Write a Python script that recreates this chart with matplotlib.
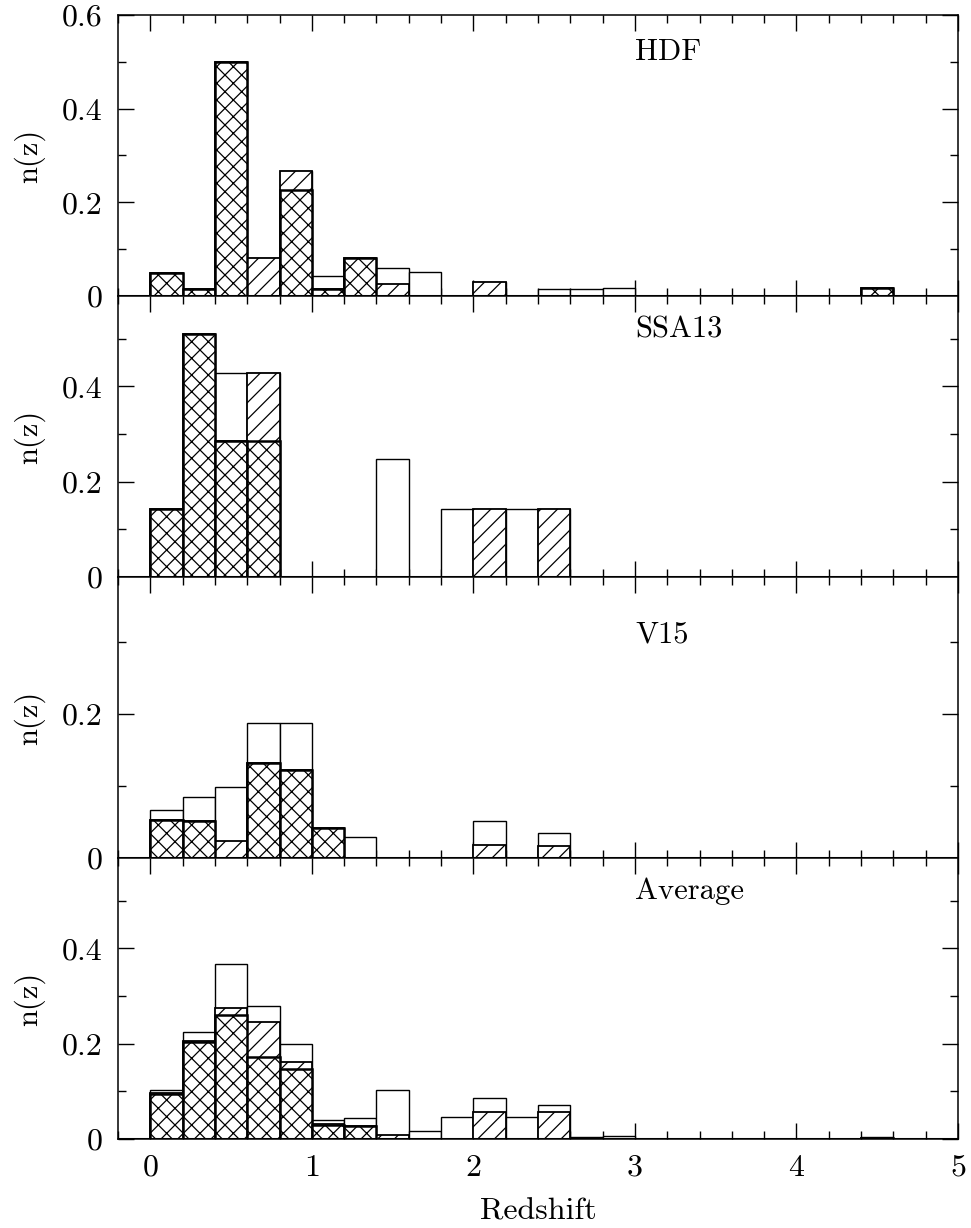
import numpy as np
import matplotlib
matplotlib.use("Agg")
import matplotlib.pyplot as plt
from matplotlib.ticker import MultipleLocator, FixedLocator, FixedFormatter

plt.rcParams['font.family'] = ['cmr10', 'DejaVu Serif']
plt.rcParams['axes.unicode_minus'] = False
plt.rcParams['hatch.linewidth'] = 0.9
plt.rcParams['hatch.color'] = 'black'

# bins of width 0.2 from z=0 to z=5
bin_width = 0.2
bin_left = np.arange(0, 5, bin_width)

names = ["HDF", "SSA13", "V15", "Average"]

# open bars = all, hatched = subset, cross-hatched = smaller subset
hdf_all = [0.048, 0.014, 0.50, 0.081, 0.267, 0.043, 0.081, 0.059, 0.051, 0, 0.029, 0, 0.014,
           0.014, 0.017, 0, 0, 0, 0, 0, 0, 0, 0.016, 0, 0]
hdf_hatch = [0.048, 0.014, 0.50, 0.081, 0.267, 0.014, 0.081, 0.026, 0, 0, 0.029, 0, 0,
             0, 0, 0, 0, 0, 0, 0, 0, 0, 0.016, 0, 0]
hdf_cross = [0.048, 0.014, 0.50, 0, 0.226, 0.014, 0.081, 0, 0, 0, 0, 0, 0,
             0, 0, 0, 0, 0, 0, 0, 0, 0, 0.016, 0, 0]

ssa_all = [0.143, 0.51, 0.428, 0.428, 0, 0, 0, 0.248, 0, 0.143, 0.143, 0.143, 0.143,
           0, 0, 0, 0, 0, 0, 0, 0, 0, 0, 0, 0]
ssa_hatch = [0.143, 0.51, 0.286, 0.428, 0, 0, 0, 0, 0, 0, 0.143, 0, 0.143,
             0, 0, 0, 0, 0, 0, 0, 0, 0, 0, 0, 0]
ssa_cross = [0.143, 0.51, 0.286, 0.286, 0, 0, 0, 0, 0, 0, 0, 0, 0,
             0, 0, 0, 0, 0, 0, 0, 0, 0, 0, 0, 0]

v15_all = [0.066, 0.085, 0.099, 0.187, 0.187, 0.042, 0.029, 0, 0, 0, 0.052, 0, 0.034,
           0, 0, 0, 0, 0, 0, 0, 0, 0, 0, 0, 0]
v15_hatch = [0.053, 0.051, 0.024, 0.132, 0.122, 0.042, 0, 0, 0, 0, 0.018, 0, 0.016,
             0, 0, 0, 0, 0, 0, 0, 0, 0, 0, 0, 0]
v15_cross = [0.053, 0.051, 0, 0.132, 0.122, 0.042, 0, 0, 0, 0, 0, 0, 0,
             0, 0, 0, 0, 0, 0, 0, 0, 0, 0, 0, 0]

avg_all = [0.103, 0.224, 0.367, 0.279, 0.200, 0.039, 0.044, 0.102, 0.016, 0.046, 0.087, 0.046, 0.071,
           0.004, 0.006, 0, 0, 0, 0, 0, 0, 0, 0.004, 0, 0]
avg_hatch = [0.097, 0.206, 0.276, 0.246, 0.161, 0.031, 0.028, 0.009, 0, 0, 0.056, 0, 0.056,
             0, 0, 0, 0, 0, 0, 0, 0, 0, 0.003, 0, 0]
avg_cross = [0.094, 0.204, 0.260, 0.172, 0.147, 0.030, 0.027, 0, 0, 0, 0, 0, 0,
             0, 0, 0, 0, 0, 0, 0, 0, 0, 0.003, 0, 0]

all_sets = [hdf_all, ssa_all, v15_all, avg_all]
hatch_sets = [hdf_hatch, ssa_hatch, v15_hatch, avg_hatch]
cross_sets = [hdf_cross, ssa_cross, v15_cross, avg_cross]

y_tops = [0.6, 0.59, 0.39, 0.59]
y_labels = [["0", "0.2", "0.4", "0.6"], ["0", "0.2", "0.4"], ["0", "0.2"], ["0", "0.2", "0.4"]]
label_y = [0.52, 0.52, 0.31, 0.52]

fs = 21
fig, axes = plt.subplots(4, 1, figsize=(9.71, 12.28), dpi=100, sharex=True)
fig.subplots_adjust(left=0.1215, right=0.9866, top=0.9878, bottom=0.0725, hspace=0)

for i, ax in enumerate(axes):
    # open, then single hatch, then cross hatch on top
    ax.bar(bin_left, all_sets[i], width=bin_width, align='edge', facecolor='white',
           edgecolor='black', linewidth=1.0, zorder=2)
    ax.bar(bin_left, hatch_sets[i], width=bin_width, align='edge', facecolor='white',
           edgecolor='black', linewidth=1.3, hatch='//', zorder=3)
    ax.bar(bin_left, cross_sets[i], width=bin_width, align='edge', facecolor='white',
           edgecolor='black', linewidth=1.8, hatch='xx', zorder=4)
    ax.axhline(0, color='black', linewidth=2.2, zorder=5)

    ax.set_xlim(-0.2, 5)
    ax.set_ylim(0, y_tops[i])
    ax.text(3.0, label_y[i], names[i], fontsize=fs + 1, ha='left', va='center')

    ax.xaxis.set_major_locator(MultipleLocator(1))
    ax.xaxis.set_minor_locator(MultipleLocator(0.2))
    ticks = [0.2 * k for k in range(len(y_labels[i]))]
    ax.yaxis.set_major_locator(FixedLocator(ticks))
    ax.yaxis.set_major_formatter(FixedFormatter(y_labels[i]))
    ax.yaxis.set_minor_locator(MultipleLocator(0.1))
    ax.tick_params(which='both', direction='in', top=True, right=True, width=1.0,
                   labelsize=23, pad=11)
    ax.tick_params(which='major', length=11.5)
    ax.tick_params(which='minor', length=5.6)
    for sp in ax.spines.values():
        sp.set_linewidth(1.1)
    ax.set_ylabel("n(z)", fontsize=fs + 1, labelpad=12)

axes[-1].set_xlabel("Redshift", fontsize=fs + 2, labelpad=12)
axes[-1].set_xticks([0, 1, 2, 3, 4, 5])
axes[-1].set_xticklabels(["0", "1", "2", "3", "4", "5"])

fig.savefig("out.png", dpi=100)
